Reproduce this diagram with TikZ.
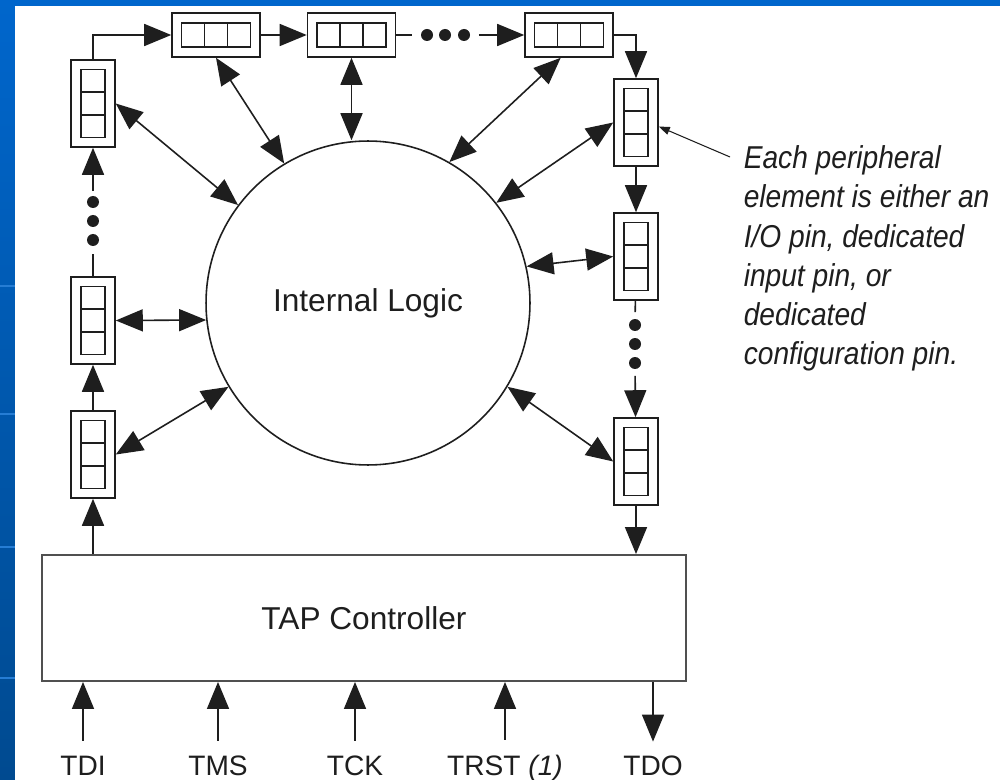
\documentclass[tikz,border=0pt]{standalone}
\usepackage{fontspec}
\setmainfont{Liberation Sans}
\newfontfamily\notefont[FakeStretch=0.89]{Liberation Sans}
\usetikzlibrary{arrows.meta,positioning}

\definecolor{slideblue}{RGB}{0,102,204}
\definecolor{slidedark}{RGB}{0,74,144}
\definecolor{ink}{RGB}{30,30,30}
\definecolor{tapgray}{RGB}{80,80,80}

\begin{document}
\begin{tikzpicture}[x=0.02cm,y=-0.02cm,line width=0.9pt,color=ink,
    >={Triangle[length=5.4mm,width=4.4mm]},
    vcell/.style={draw,minimum width=0.88cm,minimum height=1.74cm,inner sep=0pt,
      path picture={\draw[line width=0.9pt,shift={(path picture bounding box.center)}]
        (-12,-34) rectangle (12,34) (-12,-11.3) -- (12,-11.3) (-12,11.3) -- (12,11.3);}},
    hcell/.style={draw,minimum width=1.76cm,minimum height=0.88cm,inner sep=0pt,
      path picture={\draw[line width=0.9pt,shift={(path picture bounding box.center)}]
        (-34.5,-12) rectangle (34.5,12) (-11.5,-12) -- (-11.5,12) (11.5,-12) -- (11.5,12);}},
    seqdot/.style={circle,fill=ink,inner sep=0pt,minimum size=0.24cm},
    pinlabel/.style={anchor=base,inner sep=0pt,font=\fontsize{16}{19}\selectfont},
    big font/.style={font=\fontsize{18}{22}\selectfont}]

  \fill[slideblue] (0,0) rectangle (1000,780);
  \shade[top color=slideblue,bottom color=slidedark] (0,0) rectangle (15,780);
  \foreach \y in {286,414,547,678}
    \fill[slideblue!85!white] (0,\y-1) rectangle (15,\y+1);
  \fill[white] (15,6) rectangle (1000,780);
  \useasboundingbox (0,0) rectangle (1000,780);

  \node[hcell] (h1) at (216,35) {};
  \node[hcell] (h2) at (351.5,35) {};
  \node[hcell] (h3) at (569,35) {};
  \node[vcell] (l1) at (93,103.5) {};
  \node[vcell] (l2) at (93,320.5) {};
  \node[vcell] (l3) at (93,454.5) {};
  \node[vcell] (r1) at (636,122.5) {};
  \node[vcell] (r2) at (636,256.5) {};
  \node[vcell] (r3) at (636,461.5) {};
  \node[circle,draw,minimum size=6.48cm,inner sep=0pt,big font] (logic) at (368,303) {Internal Logic};
  \node[draw=tapgray,line width=1.1pt,minimum width=12.88cm,minimum height=2.52cm,big font] (tap) at (364,618) {TAP Controller};

  \node[seqdot] (ld1) at (93,202) {};
  \node[seqdot] (ld2) at (93,221) {};
  \node[seqdot] (ld3) at (93,240) {};
  \node[seqdot] (td1) at (427,35) {};
  \node[seqdot] (td2) at (445,35) {};
  \node[seqdot] (td3) at (464,35) {};
  \node[seqdot] (rd1) at (635,325) {};
  \node[seqdot] (rd2) at (635,344) {};
  \node[seqdot] (rd3) at (635,363) {};

  \draw[->] (l1.north) |- (h1.west);
  \draw[->] (h1) -- (h2);
  \draw[shorten >=0.16cm] (h2) -- (td1);
  \draw[->,shorten <=0.16cm] (td3) -- (h3);
  \draw[->] (h3.east) -| (r1.north);
  \draw[->] (r1) -- (r2);
  \draw[shorten >=0.12cm] (r2) -- (rd1);
  \draw[->,shorten <=0.12cm] (rd3) -- (r3);
  \draw[->] (r3.south) -- (r3.south |- tap.north);
  \draw[->] (l3.south |- tap.north) -- (l3.south);
  \draw[->] (l3) -- (l2);
  \draw[shorten >=0.14cm] (l2) -- (ld3);
  \draw[->,shorten <=0.08cm] (ld1) -- (l1);

  \draw[<->] (l1.east) -- (logic.143);
  \draw[<->] (h1.south) -- (logic.121);
  \draw[<->] (h2.south) -- (h2.south |- logic.north);
  \draw[<->] (h3.250) -- (logic.60);
  \draw[<->] (r1.west) -- (logic.38);
  \draw[<->] (r2.west) -- (logic.13);
  \draw[<->] (r3.west) -- (logic.-31);
  \draw[<->] (l2.east) -- (logic.186);
  \draw[<->] (l3.east) -- (logic.211);

  \node[pinlabel] (tdi) at (83,775) {TDI};
  \node[pinlabel] (tms) at (218,775) {TMS};
  \node[pinlabel] (tck) at (355,775) {TCK};
  \node[pinlabel] (trst) at (505,775) {TRST \textit{(1)}};
  \node[pinlabel] (tdo) at (653,775) {TDO};
  \foreach \p in {tdi,tms,tck,trst}
    \draw[->,shorten <=0.28cm] (\p.north) -- (\p.north |- tap.south);
  \draw[->,shorten >=0.26cm] (tap.south -| tdo.north) -- (tdo.north);

  \node[anchor=north west,inner sep=0pt,align=left,
        font=\notefont\itshape\fontsize{18}{22.3}\selectfont] (note) at (743,145)
    {Each peripheral\\element is either an\\I/O pin, dedicated\\input pin, or\\dedicated\\configuration pin.};
  \coordinate (notetail) at (730,157);
  \draw[-{Triangle[length=2.2mm,width=1.6mm]},line width=0.6pt] (notetail) -- (r1.-10);
\end{tikzpicture}
\end{document}
